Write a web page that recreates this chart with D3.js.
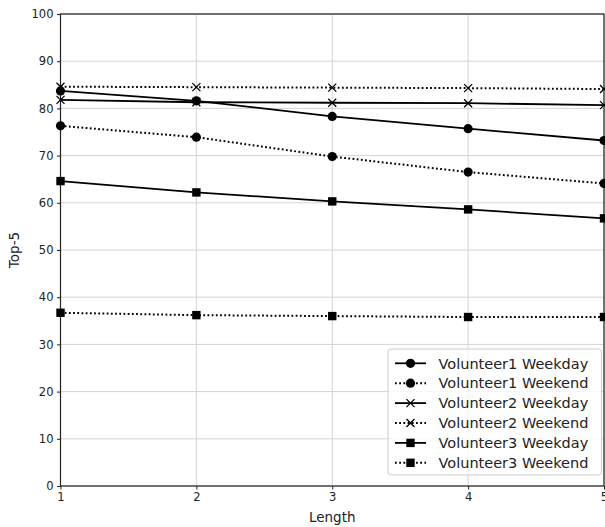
<!DOCTYPE html>
<html><head><meta charset="utf-8">
<script src="https://cdn.jsdelivr.net/npm/d3@7"></script>
<style>body{margin:0;background:#fff}svg{display:block}text{font-family:"DejaVu Sans",sans-serif;fill:#222}</style>
</head><body><svg id="c" width="605" height="527"></svg>
<script>
const lengths = [1, 2, 3, 4, 5];
const xTicks = [1, 2, 3, 4, 5];
const yTicks = [0, 10, 20, 30, 40, 50, 60, 70, 80, 90, 100];
const seriesNames = ["Volunteer1 Weekday","Volunteer1 Weekend","Volunteer2 Weekday","Volunteer2 Weekend","Volunteer3 Weekday","Volunteer3 Weekend"];
const v1Weekday = [83.7, 81.6, 78.3, 75.7, 73.2];
const v1Weekend = [76.3, 73.9, 69.8, 66.5, 64.1];
const v2Weekday = [81.8, 81.3, 81.2, 81.1, 80.7];
const v2Weekend = [84.6, 84.5, 84.4, 84.3, 84.1];
const v3Weekday = [64.6, 62.2, 60.3, 58.6, 56.7];
const v3Weekend = [36.7, 36.2, 36.0, 35.8, 35.8];
const markers = ["circle","circle","x","x","square","square"];
const dotted = [false,true,false,true,false,true];
const values = [v1Weekday,v1Weekend,v2Weekday,v2Weekend,v3Weekday,v3Weekend];

const L=60.5,R=604,T=14,B=486;
const svg=d3.select("#c");
const x=d3.scaleLinear().domain([1,5]).range([L,R]);
const y=d3.scaleLinear().domain([0,100]).range([B,T]);

// grid
svg.append("g").selectAll("line").data(yTicks).join("line")
 .attr("x1",L).attr("x2",R).attr("y1",d=>y(d)).attr("y2",d=>y(d))
 .attr("stroke","#d4d4d4").attr("stroke-width",1);
svg.append("g").selectAll("line").data(xTicks).join("line")
 .attr("y1",T).attr("y2",B).attr("x1",d=>x(d)).attr("x2",d=>x(d))
 .attr("stroke","#d4d4d4").attr("stroke-width",1);

// axes
const xa=svg.append("g").attr("transform",`translate(0,${B})`)
 .call(d3.axisBottom(x).tickValues(xTicks).tickFormat(d3.format("d")).tickSize(3.5).tickPadding(3));
const ya=svg.append("g").attr("transform",`translate(${L},0)`)
 .call(d3.axisLeft(y).tickValues(yTicks).tickSize(3.5).tickPadding(3.5));
[xa,ya].forEach(a=>{a.select(".domain").remove();a.selectAll("text").attr("font-size",11.5).style("fill","#222");a.selectAll("line").attr("stroke","#222");});

// frame
svg.append("rect").attr("x",L).attr("y",T).attr("width",R-L).attr("height",B-T)
 .attr("fill","none").attr("stroke","#222").attr("stroke-width",1.2);

svg.append("text").attr("x",(L+R)/2).attr("y",522).attr("text-anchor","middle").attr("font-size",13.5).text("Length");
svg.append("text").attr("transform",`translate(19,${(T+B)/2}) rotate(-90)`).attr("text-anchor","middle").attr("font-size",13.5).text("Top-5");

function drawMarker(g,type,cx,cy){
  if(type==="circle") g.append("circle").attr("cx",cx).attr("cy",cy).attr("r",4.6).attr("fill","#000");
  else if(type==="square") g.append("rect").attr("x",cx-4.2).attr("y",cy-4.2).attr("width",8.4).attr("height",8.4).attr("fill","#000");
  else g.append("path").attr("d",`M${cx-4},${cy-4}L${cx+4},${cy+4}M${cx-4},${cy+4}L${cx+4},${cy-4}`).attr("stroke","#000").attr("stroke-width",1.3).attr("fill","none");
}

const line=d3.line().x((d,i)=>x(lengths[i])).y(d=>y(d));
const plot=svg.append("g");
values.forEach((vals,k)=>{
  const g=plot.append("g");
  g.append("path").datum(vals).attr("d",line).attr("fill","none").attr("stroke","#000")
   .attr("stroke-width",dotted[k]?2:1.8).attr("stroke-dasharray",dotted[k]?"1.8,2.4":null);
  vals.forEach((v,i)=>drawMarker(g,markers[k],x(lengths[i]),y(v)));
});

// legend
const lg=svg.append("g");
lg.append("rect").attr("x",388).attr("y",349).attr("width",213.5).attr("height",126).attr("rx",3)
 .attr("fill","#fff").attr("fill-opacity",0.8).attr("stroke","#ccc").attr("stroke-width",1);
seriesNames.forEach((n,k)=>{
  const cy=363.3+k*19.9;
  lg.append("line").attr("x1",395).attr("x2",426).attr("y1",cy).attr("y2",cy).attr("stroke","#000")
   .attr("stroke-width",dotted[k]?2:1.8).attr("stroke-dasharray",dotted[k]?"1.8,2.4":null);
  drawMarker(lg,markers[k],410.5,cy);
  lg.append("text").attr("x",438.5).attr("y",cy).attr("dy","0.36em").attr("font-size",14.5).text(n);
});
</script></body></html>
